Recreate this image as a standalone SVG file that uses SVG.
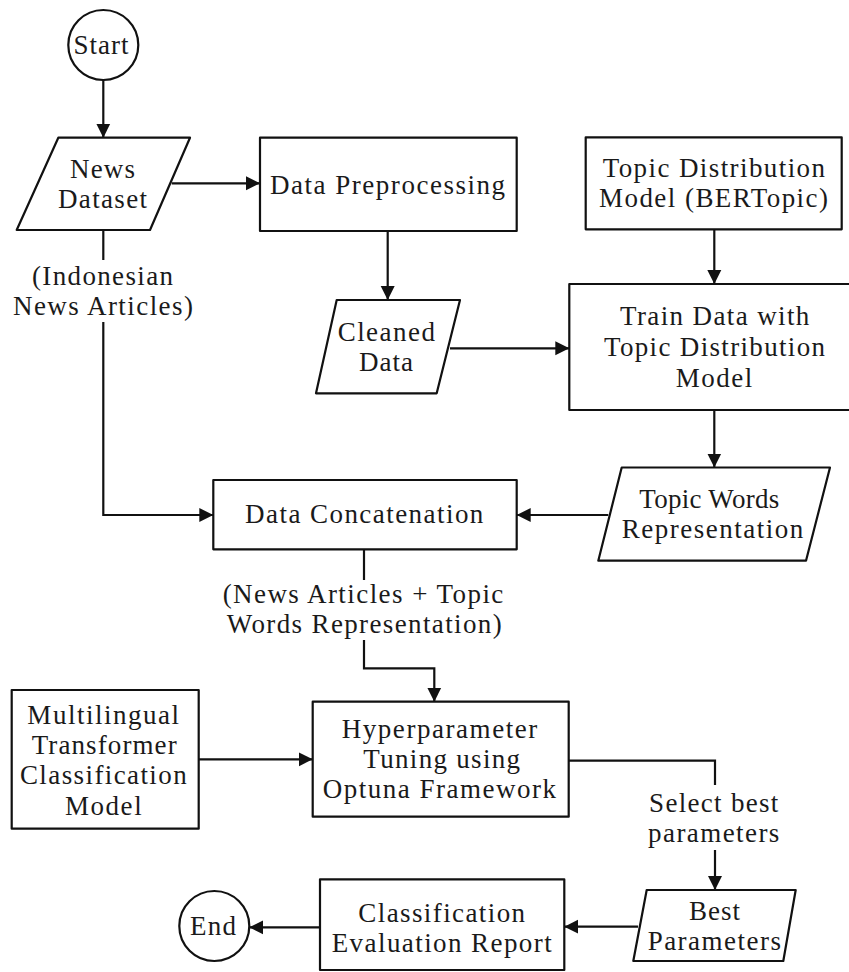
<svg xmlns="http://www.w3.org/2000/svg" width="849" height="972" viewBox="0 0 849 972">
<style>
.n{fill:#fff;stroke:#111;stroke-width:2.2;stroke-linejoin:round}
.c{fill:none;stroke:#111;stroke-width:2.2}
.a{marker-end:url(#ah)}
text{font-family:"Liberation Serif","Times New Roman",serif;font-size:27px;fill:#1a1a1a;text-anchor:middle}
</style>
<defs>
<marker id="ah" markerUnits="userSpaceOnUse" markerWidth="15" markerHeight="15" refX="14" refY="7.5" orient="auto" viewBox="0 0 15 15">
<path d="M0,0.5 L14,7.5 L0,14.5 z" fill="#111"/>
</marker>
</defs>
<rect width="849" height="972" fill="#fff"/>
<g id="connectors">
<path class="c a" d="M103.3,80 V137.7"/>
<path class="c a" d="M171.7,183.3 H260"/>
<path class="c" d="M103.3,230 V260"/>
<path class="c a" d="M103.3,322 V515 H213.3"/>
<path class="c a" d="M387.7,231 V300"/>
<path class="c a" d="M450,348.3 H569.3"/>
<path class="c a" d="M714.3,229.3 V284"/>
<path class="c a" d="M714.3,410 V467.5"/>
<path class="c a" d="M608.3,515 H516.7"/>
<path class="c" d="M364,549.3 V580"/>
<path class="c a" d="M364,640 V668.3 H434.3 V701.7"/>
<path class="c a" d="M198.7,759.3 H312.7"/>
<path class="c" d="M568.7,760.7 H715 V785"/>
<path class="c a" d="M715,850 V890"/>
<path class="c a" d="M638,926.7 H564.3"/>
<path class="c a" d="M320,927.3 H249.3"/>
<text x="102.5" y="285" textLength="141" lengthAdjust="spacing">(Indonesian</text>
<text x="103" y="315" textLength="180" lengthAdjust="spacing">News Articles)</text>
<text x="363" y="603.3" textLength="280.7" lengthAdjust="spacing">(News Articles + Topic</text>
<text x="364.2" y="633.3" textLength="275" lengthAdjust="spacing">Words Representation)</text>
<text x="713.7" y="811.7" textLength="129.3" lengthAdjust="spacing">Select best</text>
<text x="713.7" y="841.7" textLength="131.3" lengthAdjust="spacing">parameters</text>
</g>
<g id="start">
<circle class="n" cx="103.3" cy="45" r="35"/>
<text x="101" y="54" textLength="55" lengthAdjust="spacing">Start</text>
</g>
<g id="news-dataset">
<polygon class="n" points="58.3,137.7 190,137.7 150,230 16.7,230"/>
<text x="102.5" y="178" textLength="65" lengthAdjust="spacing">News</text>
<text x="102.5" y="208" textLength="89" lengthAdjust="spacing">Dataset</text>
</g>
<g id="data-preprocessing">
<rect class="n" x="260" y="137.7" width="256.7" height="93.3"/>
<text x="387.5" y="194" textLength="235" lengthAdjust="spacing">Data Preprocessing</text>
</g>
<g id="cleaned-data">
<polygon class="n" points="336.7,300 460,300 436.7,393.3 316,393.3"/>
<text x="386.3" y="340.7" textLength="97.3" lengthAdjust="spacing">Cleaned</text>
<text x="386" y="370.7" textLength="54" lengthAdjust="spacing">Data</text>
</g>
<g id="topic-distribution-model">
<rect class="n" x="585.7" y="137.3" width="256" height="92"/>
<text x="713.8" y="177.3" textLength="222.3" lengthAdjust="spacing">Topic Distribution</text>
<text x="713.5" y="207.3" textLength="229" lengthAdjust="spacing">Model (BERTopic)</text>
</g>
<g id="train-data">
<rect class="n" x="569.3" y="284" width="285" height="126"/>
<text x="714.7" y="325" textLength="189.3" lengthAdjust="spacing">Train Data with</text>
<text x="714.5" y="356" textLength="221" lengthAdjust="spacing">Topic Distribution</text>
<text x="714" y="386.7" textLength="76.7" lengthAdjust="spacing">Model</text>
</g>
<g id="topic-words">
<polygon class="n" points="621.7,467.5 830,467.5 806,560.7 598.3,560.7"/>
<text x="709.3" y="508.3" textLength="140" lengthAdjust="spacing">Topic Words</text>
<text x="712.5" y="538.3" textLength="181.7" lengthAdjust="spacing">Representation</text>
</g>
<g id="data-concatenation">
<rect class="n" x="213.3" y="480" width="303.4" height="69.3"/>
<text x="364.2" y="523.3" textLength="238.3" lengthAdjust="spacing">Data Concatenation</text>
</g>
<g id="multilingual-model">
<rect class="n" x="11.7" y="690" width="187" height="138.7"/>
<text x="103.2" y="724" textLength="151.7" lengthAdjust="spacing">Multilingual</text>
<text x="104.2" y="754.3" textLength="145" lengthAdjust="spacing">Transformer</text>
<text x="103.3" y="784.3" textLength="166.7" lengthAdjust="spacing">Classification</text>
<text x="103.3" y="815" textLength="76.7" lengthAdjust="spacing">Model</text>
</g>
<g id="hyperparameter-tuning">
<rect class="n" x="312.7" y="701.7" width="256" height="115"/>
<text x="439.5" y="738.3" textLength="195.6" lengthAdjust="spacing">Hyperparameter</text>
<text x="441.7" y="768.3" textLength="156.7" lengthAdjust="spacing">Tuning using</text>
<text x="439.3" y="798.3" textLength="233.3" lengthAdjust="spacing">Optuna Framework</text>
</g>
<g id="best-parameters">
<polygon class="n" points="646.7,890 795.7,890 783.3,961 633.3,961"/>
<text x="714.5" y="920" textLength="51" lengthAdjust="spacing">Best</text>
<text x="714.3" y="950" textLength="133.3" lengthAdjust="spacing">Parameters</text>
</g>
<g id="evaluation-report">
<rect class="n" x="320" y="879.3" width="244.3" height="90.7"/>
<text x="441.7" y="921.7" textLength="166.7" lengthAdjust="spacing">Classification</text>
<text x="441.7" y="951.7" textLength="220" lengthAdjust="spacing">Evaluation Report</text>
</g>
<g id="end">
<circle class="n" cx="214.3" cy="926" r="35"/>
<text x="213" y="935" textLength="46" lengthAdjust="spacing">End</text>
</g>
</svg>
